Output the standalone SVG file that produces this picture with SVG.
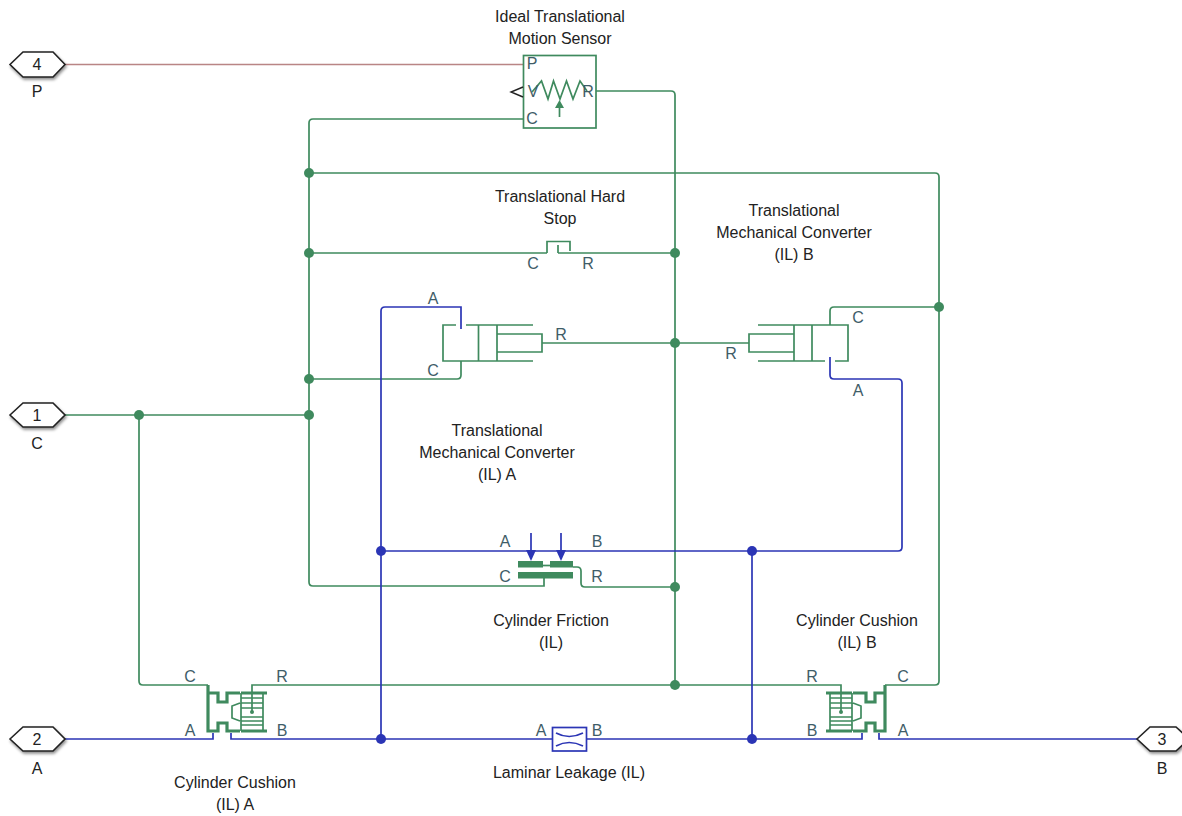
<svg xmlns="http://www.w3.org/2000/svg" width="1182" height="816" viewBox="0 0 1182 816">
<defs>
<style>
text{font-family:"Liberation Sans",Arial,sans-serif;text-anchor:middle}
.n{font-size:16px;fill:#222}
.p{font-size:16px;fill:#3f5d68}
.g{fill:none;stroke:#3f8a5e;stroke-width:1.7}
.gt{fill:none;stroke:#3f8a5e;stroke-width:3.2}
.gf{fill:#3f8a5e;stroke:none}
.b{fill:none;stroke:#2b35b5;stroke-width:1.7}
.bf{fill:#2b35b5;stroke:none}
.r{fill:none;stroke:#b98585;stroke-width:1.7}
.hex{fill:#fff;stroke:#222;stroke-width:1.6;filter:url(#sh)}
</style>
<filter id="sh" x="-20%" y="-20%" width="140%" height="150%"><feDropShadow dx="1" dy="2" stdDeviation="1.5" flood-color="#000" flood-opacity="0.45"/></filter>
</defs>
<rect width="1182" height="816" fill="#fff"/>
<g id="connectors">
<path class="r" d="M65 64.500H524"/>
<path class="g" d="M596 91H671Q675 91 675 95V685"/>
<path class="g" d="M523 119H313Q309 119 309 123V582Q309 586 313 586H544V578"/>
<path class="g" d="M309 173H935Q939 173 939 177V681Q939 685 935 685H885"/>
<path class="g" d="M309 253H547M558 253H675"/>
<path class="g" d="M309 379H457Q461 379 461 375V361"/>
<path class="g" d="M65 415H309"/>
<path class="g" d="M139 415V681Q139 685 143 685H208"/>
<path class="g" d="M542 343H749"/>
<path class="g" d="M830 325V311Q830 307 834 307H939"/>
<path class="g" d="M573 567H577Q581 567 581 571V583Q581 587 585 587H675"/>
<path class="g" d="M252 693V685H841V693"/>
<path class="b" d="M461 329V307H385Q381 307 381 311V739"/>
<path class="b" d="M830 357V375Q830 379 834 379H898Q902 379 902 383V547Q902 551 898 551H381"/>
<path class="b" d="M752 551V739"/>
<path class="b" d="M65 739H213V733M231 733V739H552M587 739H862V733M879 733V739H1137"/>
<g class="gf"><circle cx="309" cy="173" r="5"/><circle cx="309" cy="253" r="5"/><circle cx="309" cy="379" r="5"/><circle cx="309" cy="415" r="5"/><circle cx="139" cy="415" r="5"/><circle cx="675" cy="253" r="5"/><circle cx="675" cy="343" r="5"/><circle cx="675" cy="587" r="5"/><circle cx="675" cy="685" r="5"/><circle cx="939" cy="307" r="5"/></g>
<g class="bf"><circle cx="381" cy="551" r="5"/><circle cx="752" cy="551" r="5"/><circle cx="381" cy="739" r="5"/><circle cx="752" cy="739" r="5"/></g>
</g>
<g id="port4"><polygon class="hex" points="10,64.500 23,52 53,52 65,64.500 53,77 23,77"/><text class="n" x="37" y="70">4</text><text class="n" x="37" y="97">P</text></g>
<g id="port1"><polygon class="hex" points="10,415 23,403 53,403 65,415 53,427 23,427"/><text class="n" x="37" y="421">1</text><text class="n" x="37" y="449">C</text></g>
<g id="port2"><polygon class="hex" points="10,739 23,727 53,727 65,739 53,751 23,751"/><text class="n" x="37" y="745">2</text><text class="n" x="37" y="774">A</text></g>
<g id="port3"><polygon class="hex" points="1137,739 1150,727 1176,727 1189,739 1176,751 1150,751"/><text class="n" x="1162" y="745">3</text><text class="n" x="1162" y="774">B</text></g>
<g id="sensor">
<rect class="g" x="523.500" y="55.500" width="72.500" height="72.500" stroke-width="2"/>
<path class="g" d="M532 92L541.500 81L548 99L553.500 81L560 99L566.500 81L573 99L580 81L587 91"/>
<path class="g" d="M559.500 117V106"/><polygon class="gf" points="559.500,100 564,108 555,108"/>
<path d="M523 87L511 92L523 97" fill="none" stroke="#222" stroke-width="1.4"/>
<text class="p" x="532" y="69">P</text><text class="p" x="533" y="97">V</text><text class="p" x="588" y="97">R</text><text class="p" x="532" y="124">C</text>
<text class="n" x="560" y="22">Ideal Translational</text><text class="n" x="560" y="44">Motion Sensor</text>
</g>
<g id="hardstop">
<path class="g" d="M547 253V241.500H570V251M558 245V253"/>
<text class="p" x="533" y="269">C</text><text class="p" x="588" y="269">R</text>
<text class="n" x="560" y="202">Translational Hard</text><text class="n" x="560" y="224">Stop</text>
</g>
<g id="converterA">
<path class="g" d="M456 325H443V361H533M466 325H533M478.500 325V361M497 325V361M497 334H542V352H497"/>
<text class="p" x="433" y="304">A</text><text class="p" x="433" y="376">C</text><text class="p" x="561" y="340">R</text>
<text class="n" x="497" y="436">Translational</text><text class="n" x="497" y="458">Mechanical Converter</text><text class="n" x="497" y="480">(IL) A</text>
</g>
<g id="converterB">
<path class="g" d="M758 325H848V361H835M825 361H758M794 325V361M812 325V361M794 334H749V352H794"/>
<text class="p" x="731" y="359">R</text><text class="p" x="858" y="323">C</text><text class="p" x="858" y="396">A</text>
<text class="n" x="794" y="216">Translational</text><text class="n" x="794" y="238">Mechanical Converter</text><text class="n" x="794" y="260">(IL) B</text>
</g>
<g id="friction">
<rect class="gf" x="518" y="561" width="25" height="6.500"/><rect class="gf" x="550" y="561" width="23" height="6.500"/><rect class="gf" x="518" y="572" width="55" height="6.500"/>
<path class="g" d="M543 565.500H550"/>
<path class="b" d="M531 533V552M561 533V552"/><polygon class="bf" points="531,561 526,550 536,550"/><polygon class="bf" points="561,561 556,550 566,550"/>
<text class="p" x="505" y="547">A</text><text class="p" x="597" y="547">B</text><text class="p" x="505" y="582">C</text><text class="p" x="597" y="582">R</text>
<text class="n" x="551" y="626">Cylinder Friction</text><text class="n" x="551" y="648">(IL)</text>
</g>
<g id="cushionA">
<path class="gt" d="M208 685V731H218V723H227V731H240M208 693H218V702H227V693H240M241 693H267M241 731H267"/>
<path class="g" d="M241 693V731M263 693V731M241 698H263M241 703H263M241 708H263M241 717H263M241 721H263M241 725H263M240 703L232 706V718L240 721"/>
<path class="g" d="M252 693V712"/><circle class="gf" cx="252" cy="712" r="2"/>
<text class="p" x="190" y="682">C</text><text class="p" x="282" y="682">R</text><text class="p" x="190" y="736">A</text><text class="p" x="282" y="736">B</text>
<text class="n" x="235" y="788">Cylinder Cushion</text><text class="n" x="235" y="810">(IL) A</text>
</g>
<g id="cushionB">
<path class="gt" d="M885 685V731H875V723H866V731H853M885 693H875V702H866V693H853M852 693H826M852 731H826"/>
<path class="g" d="M852 693V731M830 693V731M830 698H852M830 703H852M830 708H852M830 717H852M830 721H852M830 725H852M853 703L861 706V718L853 721"/>
<path class="g" d="M841 693V712"/><circle class="gf" cx="841" cy="712" r="2"/>
<text class="p" x="812" y="682">R</text><text class="p" x="903" y="682">C</text><text class="p" x="812" y="736">B</text><text class="p" x="903" y="736">A</text>
<text class="n" x="857" y="626">Cylinder Cushion</text><text class="n" x="857" y="648">(IL) B</text>
</g>
<g id="leakage">
<rect class="b" x="552.500" y="727.500" width="34" height="23.500"/>
<path class="b" d="M556 733Q569 740 583 733M556 746Q569 739 583 746"/>
<text class="p" x="541" y="736">A</text><text class="p" x="597" y="736">B</text>
<text class="n" x="569" y="778">Laminar Leakage (IL)</text>
</g>
</svg>
